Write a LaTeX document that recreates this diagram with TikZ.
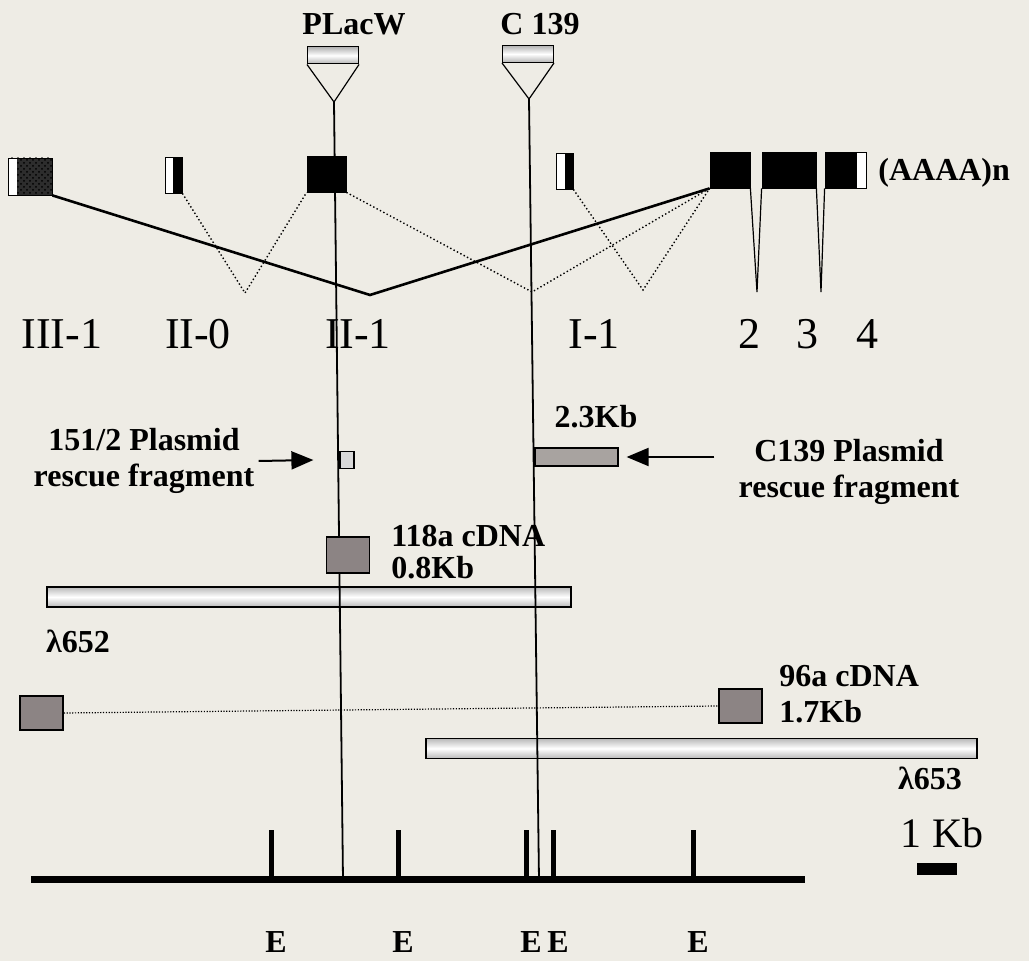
\documentclass[tikz,border=0pt]{standalone}
\usepackage{fontspec}
\setmainfont{Liberation Serif}
\usetikzlibrary{arrows.meta,positioning,patterns}
\definecolor{paper}{RGB}{238,236,229}
\definecolor{cdnagray}{RGB}{140,132,132}
\definecolor{rescuegray}{RGB}{168,163,160}

\begin{document}
\begin{tikzpicture}[x=0.5pt, y=-0.5pt, every node/.style={inner sep=0pt},
  blab/.style={font=\bfseries\fontsize{16}{18}\selectfont},
  lab/.style={font=\fontsize{22}{26}\selectfont},
  insert/.style={draw, line width=0.5pt, minimum width=25.5pt, minimum height=8.5pt, top color=gray!60, bottom color=gray!60, middle color=white},
  exon/.style={draw, fill=black, line width=0.4pt, minimum height=18pt},
  stripL/.style={path picture={\fill[white] (path picture bounding box.south west) rectangle ([xshift=#1]path picture bounding box.north west);}},
  stripR/.style={path picture={\fill[white] ([xshift=-#1]path picture bounding box.south east) rectangle (path picture bounding box.north east);}},
  splice/.style={line width=1.3pt},
  altsplice/.style={line width=0.7pt, dash pattern=on 0.7pt off 1.2pt},
  gline/.style={line width=0.9pt},
  lambdabar/.style={draw, line width=0.8pt, minimum height=10pt, top color=gray!55, bottom color=gray!55, middle color=white},
  cdna/.style={draw, line width=0.8pt, fill=cdnagray, minimum width=21.5pt, minimum height=17pt},
  site/.style={line width=2.5pt},
  ptr/.style={line width=1pt, -{Triangle[length=11pt,width=9pt]}}]
\fill[paper] (0,0) rectangle (1029,961);

% lambda clones
\node[lambdabar, minimum width=262pt] (lam652) at (309,597) {};
\node[lambdabar, minimum width=275.5pt] (lam653) at (701.5,748.5) {};
\node[blab] (l652) at (78,641) {λ652};
\node[blab] (l653) at (930,778) {λ653};

% insertions
\node[blab] (plw) at (354,24) {PLacW};
\node[blab] (c139) at (540,24) {C 139};
\node[insert] (ins1) at (333,55.5) {};
\node[insert] (ins2) at (528,54) {};
\coordinate (tip1) at (334,102);
\coordinate (tip2) at (529,99);
\coordinate (foot1) at (343,880);
\coordinate (foot2) at (539,880);
\draw[line width=0.6pt] (ins1.south west) -- (tip1) -- (ins1.south east);
\draw[line width=0.6pt] (ins2.south west) -- (tip2) -- (ins2.south east);
\draw[gline] (tip1) -- (foot1);
\draw[gline] (tip2) -- (foot2);

% exons
\node[exon, fill=none, preaction={fill=gray!35!black}, pattern=crosshatch dots, minimum width=22pt, minimum height=18.5pt, stripL=4.5pt] (ex31) at (30,176.5) {};
\node[exon, minimum width=8.5pt, stripL=4pt] (ex20) at (173.5,175) {};
\node[exon, minimum width=19.5pt] (ex21) at (326.5,174) {};
\node[exon, minimum width=8.5pt, stripL=4.5pt] (ex11) at (564.5,171) {};
\node[exon, minimum width=20pt] (ex2) at (730,170) {};
\node[exon, minimum width=27pt] (ex3) at (789,170) {};
\node[exon, minimum width=20.5pt, stripR=4.5pt] (ex4) at (845.5,170) {};
\node[blab, anchor=west] (polyA) at (878,173) {(AAAA)n};

% splicing
\coordinate (v1) at (370,295);
\coordinate (v2) at (245,293);
\coordinate (v3) at (532,292);
\coordinate (v4) at (643,290);
\coordinate (v5) at (757,292);
\coordinate (v6) at (821,292);
\draw[splice] (ex31.south east) -- (v1) -- (ex2.south west);
\draw[altsplice] (ex20.south east) -- (v2) -- (ex21.south west);
\draw[altsplice] (ex21.south east) -- (v3) -- (ex2.south west);
\draw[altsplice] (ex11.south east) -- (v4) -- (ex2.south west);
\draw[line width=0.6pt] (ex2.south east) -- (v5) -- (ex3.south west);
\draw[line width=0.6pt] (ex3.south east) -- (v6) -- (ex4.south west);

\node[lab] (n31) at (62,334) {III-1};
\node[lab] (n20) at (198,334) {II-0};
\node[lab] (n21) at (358,334) {II-1};
\node[lab] (n11) at (594,334) {I-1};
\node[lab] (n2) at (749,334) {2};
\node[lab] (n3) at (807,334) {3};
\node[lab] (n4) at (867,334) {4};

% rescue fragments
\node[draw, line width=0.6pt, fill=gray!30, minimum width=7pt, minimum height=8.5pt] (pr151) at (347,460) {};
\node[draw, line width=0.6pt, fill=rescuegray, minimum width=41.5pt, minimum height=9pt] (pr139) at (576.5,457) {};
\node[blab, align=center] (txt151) at (144,461) {151/2 Plasmid\\rescue fragment};
\node[blab, align=center] (txt139) at (849,472) {C139 Plasmid\\rescue fragment};
\node[blab] (kb23) at (596,417) {2.3Kb};
\draw[ptr] ([xshift=2pt]txt151.east) -- ([xshift=-13pt]pr151.west);
\draw[ptr] ([xshift=-12pt]txt139.west |- pr139.east) -- ([xshift=4pt]pr139.east);

% cDNAs
\node[cdna, minimum height=18pt] (c118) at (348,555) {};
\node[blab, font=\bfseries\fontsize{16}{16}\selectfont, align=left, anchor=west] (t118) at (391,552) {118a cDNA\\0.8Kb};
\node[cdna] (c96l) at (41.5,713) {};
\node[cdna] (c96r) at (740.5,706) {};
\draw[line width=0.6pt, dash pattern=on 0.6pt off 0.8pt] (c96l.east) -- (c96r.west);
\node[blab, align=left, anchor=west] (t96) at (779,694) {96a cDNA\\1.7Kb};

% EcoRI map
\foreach \x [count=\i] in {271,398,526,553,693} {
  \draw[site] (\x,880) -- (\x,830);
  \node[blab] (e\i) at (\x+5,942) {E};
}
\draw[line width=3.5pt] (31,880) -- (805,880);
\node[lab, font=\fontsize{21}{24}\selectfont] (kb1) at (942,833) {1 Kb};
\node[fill=black, minimum width=20pt, minimum height=6pt] (sbar) at (937,869) {};
\end{tikzpicture}
\end{document}
